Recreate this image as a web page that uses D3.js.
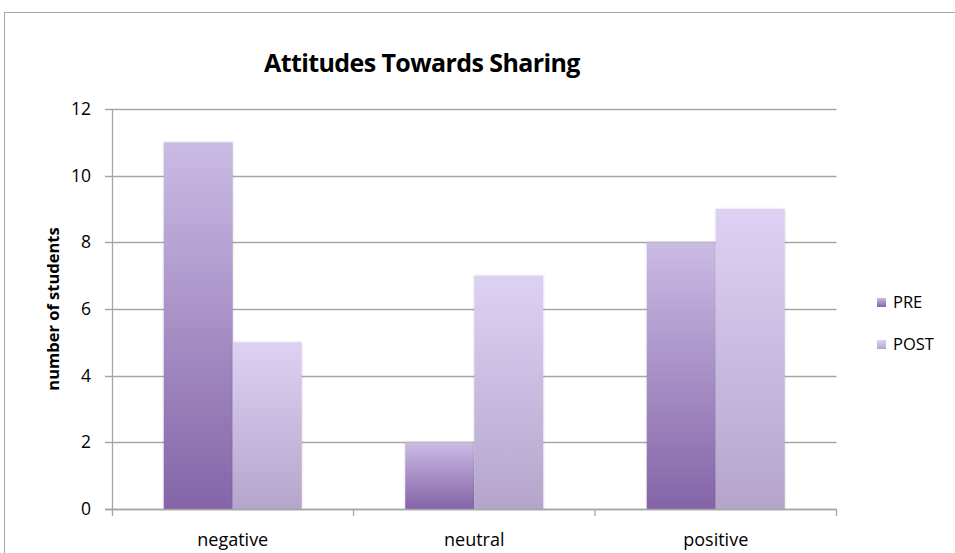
<!DOCTYPE html>
<html>
<head>
<meta charset="utf-8">
<script src="https://cdn.jsdelivr.net/npm/d3@7"></script>
<style>
  body { margin: 0; background: #fff; }
  svg { display: block; font-family: "Open Sans", "Noto Sans", sans-serif; }
</style>
</head>
<body>
<div id="chart"></div>
<script>
const categories = ['negative', 'neutral', 'positive'];
const seriesNames = ['PRE', 'POST'];
const preValues = [11, 2, 8];
const postValues = [5, 7, 9];
const yTicks = [0, 2, 4, 6, 8, 10, 12];

const width = 955, height = 553;
const margin = { left: 112, right: 955 - 836.5, top: 109, bottom: 553 - 509 };

const svg = d3.select('#chart').append('svg')
  .attr('width', width)
  .attr('height', height);

// gradients for the two series
const defs = svg.append('defs');
const gradStops = {
  PRE: ['#8464a7', '#cabbe4'],
  POST: ['#b5a5cc', '#ddd1f3']
};
seriesNames.forEach(name => {
  const g = defs.append('linearGradient')
    .attr('id', 'grad-' + name)
    .attr('x1', 0).attr('y1', 1).attr('x2', 0).attr('y2', 0);
  g.append('stop').attr('offset', '0%').attr('stop-color', gradStops[name][0]);
  g.append('stop').attr('offset', '100%').attr('stop-color', gradStops[name][1]);
});
const shadow = defs.append('filter').attr('id', 'shadow')
  .attr('x', '-10%').attr('y', '-5%').attr('width', '120%').attr('height', '110%');
shadow.append('feDropShadow')
  .attr('dx', 0).attr('dy', 0).attr('stdDeviation', 1.2)
  .attr('flood-color', '#000').attr('flood-opacity', 0.18);

// outer chart border
svg.append('rect')
  .attr('x', 4.5).attr('y', 12.5)
  .attr('width', 1000).attr('height', 600)
  .attr('fill', 'none')
  .attr('stroke', '#a6a6a6');

const x = d3.scaleBand()
  .domain(categories)
  .range([margin.left, width - margin.right]);

// gap width 150% -> bar width = band / 3.5
const barW = x.bandwidth() / 3.5;
const xSub = d3.scaleBand()
  .domain(seriesNames)
  .range([0, barW * 2]);

const y = d3.scaleLinear()
  .domain([0, 12])
  .range([height - margin.bottom, margin.top]);

// gridlines
svg.append('g')
  .selectAll('line')
  .data(yTicks)
  .join('line')
  .attr('x1', margin.left - 7)
  .attr('x2', width - margin.right)
  .attr('y1', d => Math.round(y(d)) + 0.5)
  .attr('y2', d => Math.round(y(d)) + 0.5)
  .attr('stroke', '#a6a6a6')
  .attr('stroke-width', 1.3);

// y tick labels
svg.append('g')
  .selectAll('text')
  .data(yTicks)
  .join('text')
  .attr('x', 91)
  .attr('y', d => y(d))
  .attr('dy', '0.35em')
  .attr('text-anchor', 'end')
  .attr('font-size', 17.5)
  .attr('fill', '#000')
  .text(d => d);

// bars
const series = [
  { name: 'PRE', values: preValues },
  { name: 'POST', values: postValues }
];
const groups = svg.append('g')
  .selectAll('g')
  .data(categories)
  .join('g')
  .attr('transform', d => `translate(${x(d) + (x.bandwidth() - barW * 2) / 2},0)`);

groups.selectAll('rect')
  .data((c, i) => series.map(s => ({ name: s.name, value: s.values[i] })))
  .join('rect')
  .attr('x', d => xSub(d.name))
  .attr('width', xSub.bandwidth())
  .attr('y', d => y(d.value))
  .attr('height', d => y(0) - y(d.value))
  .attr('fill', d => `url(#grad-${d.name})`)
  .attr('filter', 'url(#shadow)');

// y axis line
svg.append('line')
  .attr('x1', margin.left + 0.5).attr('x2', margin.left + 0.5)
  .attr('y1', y(12)).attr('y2', y(0) + 7)
  .attr('stroke', '#a6a6a6').attr('stroke-width', 1.3);

// x axis line + ticks at category boundaries
svg.append('line')
  .attr('x1', margin.left - 7).attr('x2', width - margin.right)
  .attr('y1', Math.round(y(0)) + 0.5).attr('y2', Math.round(y(0)) + 0.5)
  .attr('stroke', '#a6a6a6').attr('stroke-width', 1.3);
const boundaries = categories.map(c => x(c)).concat([x.range()[1]]);
svg.append('g')
  .selectAll('line')
  .data(boundaries.slice(1))
  .join('line')
  .attr('x1', d => d).attr('x2', d => d)
  .attr('y1', y(0)).attr('y2', y(0) + 7)
  .attr('stroke', '#a6a6a6').attr('stroke-width', 1.3);

// x labels
svg.append('g')
  .selectAll('text')
  .data(categories)
  .join('text')
  .attr('x', d => x(d) + x.bandwidth() / 2)
  .attr('y', 546)
  .attr('text-anchor', 'middle')
  .attr('font-size', 18)
  .attr('fill', '#000')
  .text(d => d);

// title
svg.append('text')
  .attr('x', 422)
  .attr('y', 72)
  .attr('text-anchor', 'middle')
  .attr('font-size', 25)
  .attr('font-weight', 'bold')
  .attr('letter-spacing', -0.6)
  .attr('fill', '#000')
  .text('Attitudes Towards Sharing');

// y axis title
svg.append('text')
  .attr('transform', `translate(59,${(y(0) + y(12)) / 2}) rotate(-90)`)
  .attr('text-anchor', 'middle')
  .attr('font-size', 16.5)
  .attr('font-weight', 'bold')
  .attr('fill', '#000')
  .text('number of students');

// legend
const legend = svg.append('g')
  .selectAll('g')
  .data(seriesNames)
  .join('g')
  .attr('transform', (d, i) => `translate(877,${298 + i * 42})`);
legend.append('rect')
  .attr('width', 9).attr('height', 9)
  .attr('fill', d => `url(#grad-${d})`);
legend.append('text')
  .attr('x', 16).attr('y', 4.5)
  .attr('dy', '0.35em')
  .attr('font-size', 16.5)
  .attr('fill', '#000')
  .text(d => d);
</script>
</body>
</html>
